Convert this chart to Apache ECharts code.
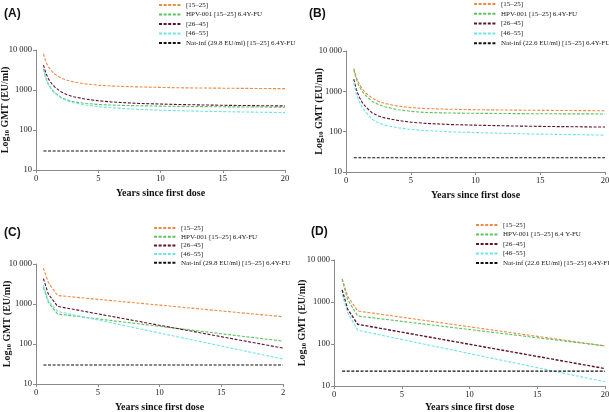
<!DOCTYPE html>
<html>
<head>
<meta charset="utf-8">
<script src="https://cdn.jsdelivr.net/npm/echarts@6/dist/echarts.min.js"></script>
<style>html,body{margin:0;padding:0;background:#fff}#c{width:609px;height:412px}</style>
</head>
<body>
<div id="c"></div>
<script>
// ---- data ----
const smoothYears = [0.6, 0.8, 1, 1.25, 1.5, 2, 2.5, 3, 4, 5, 6, 8, 10, 12, 15, 18, 20];
const pieceYears = [0.6, 1, 1.75, 20];
const natYears = [0.6, 20];

// Panel A (smooth)
const A_15_25 = [8000, 5000, 3800, 3000, 2500, 2000, 1750, 1600, 1420, 1320, 1260, 1200, 1160, 1130, 1110, 1090, 1080];
const A_hpv001 = [3400, 2000, 1400, 1050, 860, 660, 560, 510, 460, 435, 420, 405, 395, 388, 380, 375, 372];
const A_26_45 = [4200, 2600, 1900, 1450, 1200, 900, 760, 680, 590, 540, 505, 465, 445, 430, 415, 405, 400];
const A_46_55 = [3200, 1900, 1350, 1020, 840, 640, 540, 480, 420, 385, 360, 330, 312, 300, 288, 278, 272];
// Panel B (smooth)
const B_15_25 = [3700, 2200, 1550, 1150, 920, 690, 570, 500, 430, 395, 375, 360, 350, 345, 338, 333, 330];
const B_hpv001 = [3400, 2000, 1350, 1000, 800, 570, 470, 415, 350, 320, 300, 290, 285, 282, 278, 276, 275];
const B_26_45 = [2000, 1100, 750, 530, 420, 295, 245, 220, 190, 172, 162, 150, 145, 140, 135, 132, 130];
const B_46_55 = [1600, 850, 580, 400, 310, 205, 165, 145, 125, 114, 107, 99, 95, 91, 87, 84, 82];
// Panel C (piecewise)
const C_15_25 = [7900, 3450, 1630, 480];
const C_hpv001 = [2600, 1100, 560, 118];
const C_26_45 = [4300, 1770, 870, 79];
const C_46_55 = [2960, 1200, 650, 42];
// Panel D (piecewise)
const D_15_25 = [3590, 1380, 611, 90];
const D_hpv001 = [3500, 1150, 464, 90];
const D_26_45 = [1940, 680, 295, 26];
const D_46_55 = [1520, 565, 212, 12.6];
// Natural infection thresholds
const natAC = [29.8, 29.8];
const natBD = [22.6, 22.6];

const yTicks = [10, 100, 1000, 10000];
const yTickLabels = ['10', '100', '1000', '10 000'];

const nm15 = '[15–25]';
const nmHpv = 'HPV-001 [15–25] 6.4Y-FU';
const nmHpvD = 'HPV-001 [15–25] 6.4 Y-FU';
const nm26 = '[26–45]';
const nm46 = '[46–55]';
const nmNatAC = 'Nat-inf (29.8 EU/ml) [15–25] 6.4Y-FU';
const nmNatBD = 'Nat-inf (22.6 EU/ml) [15–25] 6.4Y-FU';

// ---- styling ----
const COL = {o: '#ee8a45', g: '#5cc160', r: '#5e1330', c: '#6fe3ea', k: '#111111'};
const SERIF = '"Liberation Serif", "DejaVu Serif", serif';

const grids = [
  {left: 36, top: 50, width: 249, height: 120, outerBoundsMode: 'none', containLabel: false},
  {left: 346, top: 51, width: 259, height: 121, outerBoundsMode: 'none', containLabel: false},
  {left: 36, top: 264, width: 247, height: 120, outerBoundsMode: 'none', containLabel: false},
  {left: 334, top: 260, width: 271, height: 126, outerBoundsMode: 'none', containLabel: false}
];
const yTitleGap = [25, 21, 23, 26];
const xTitleGap = [18, 18, 18, 16];

function pairs(xs, ys) { return xs.map((x, i) => [x, ys[i]]); }

function mk(name, xs, ys, color, gi, w) {
  return {
    name, type: 'line', xAxisIndex: gi, yAxisIndex: gi,
    data: pairs(xs, ys), symbol: 'none', showSymbol: false, smooth: false, silent: true,
    lineStyle: {color, width: w || 1.1, type: [3, 1.6]},
    itemStyle: {color}
  };
}

const series = [
  mk(nm15, smoothYears, A_15_25, COL.o, 0),
  mk(nmHpv, smoothYears, A_hpv001, COL.g, 0),
  mk(nm26, smoothYears, A_26_45, COL.r, 0),
  mk(nm46, smoothYears, A_46_55, COL.c, 0),
  mk(nmNatAC, natYears, natAC, COL.k, 0),
  mk(nm15, smoothYears, B_15_25, COL.o, 1),
  mk(nmHpv, smoothYears, B_hpv001, COL.g, 1),
  mk(nm26, smoothYears, B_26_45, COL.r, 1),
  mk(nm46, smoothYears, B_46_55, COL.c, 1),
  mk(nmNatBD, natYears, natBD, COL.k, 1),
  mk(nm15, pieceYears, C_15_25, COL.o, 2),
  mk(nmHpv, pieceYears, C_hpv001, COL.g, 2),
  mk(nm26, pieceYears, C_26_45, COL.r, 2),
  mk(nm46, pieceYears, C_46_55, COL.c, 2),
  mk(nmNatAC, natYears, natAC, COL.k, 2),
  mk(nm15, pieceYears, D_15_25, COL.o, 3),
  mk(nmHpvD, pieceYears, D_hpv001, COL.g, 3),
  mk(nm26, pieceYears, D_26_45, COL.r, 3, 1.4),
  mk(nm46, pieceYears, D_46_55, COL.c, 3),
  mk(nmNatBD, natYears, natBD, COL.k, 3)
];

const axisGray = '#8a8a8a';
const xAxes = grids.map((g, i) => ({
  type: 'value', gridIndex: i, min: 0, max: 20, interval: 5,
  name: 'Years since first dose', nameLocation: 'middle', nameGap: xTitleGap[i], nameMoveOverlap: false,
  nameTextStyle: {fontFamily: SERIF, fontWeight: 'bold', fontSize: 10, color: '#111'},
  axisLine: {onZero: false, lineStyle: {color: axisGray, width: 1}},
  axisTick: {show: true, length: 3, lineStyle: {color: axisGray}},
  axisLabel: {fontFamily: SERIF, fontSize: 8.5, color: '#222', margin: 4,
    formatter: v => (i === 2 && v === 20) ? '2' : String(v)},
  splitLine: {show: false}
}));
const yAxes = grids.map((g, i) => ({
  type: 'log', logBase: 10, gridIndex: i, min: 10, max: 10000,
  name: '{b|Log}{s|10}{b| GMT (EU/ml)}', nameLocation: 'middle', nameGap: yTitleGap[i], nameRotate: 90,
  nameMoveOverlap: false,
  nameTextStyle: {rich: {
    b: {fontFamily: SERIF, fontWeight: 'bold', fontSize: 10, color: '#111'},
    s: {fontFamily: SERIF, fontWeight: 'bold', fontSize: 6.5, color: '#111', padding: [4, 0, 0, 0]}
  }},
  axisLine: {show: true, lineStyle: {color: axisGray, width: 1}},
  axisTick: {show: true, length: 3, lineStyle: {color: axisGray}},
  axisLabel: {fontFamily: SERIF, fontSize: 8.5, color: '#222', margin: 4,
    formatter: v => { const k = yTicks.indexOf(Math.round(v)); return k >= 0 ? yTickLabels[k] : ''; }},
  splitLine: {show: false}
}));

function leg(left, top, names, gap) {
  return {
    left, top, padding: 0, orient: 'vertical', itemWidth: 22, itemHeight: 6, itemGap: gap,
    data: names, selectedMode: false,
    itemStyle: {color: 'transparent', borderColor: 'transparent', borderWidth: 0, opacity: 0},
    textStyle: {fontFamily: SERIF, fontSize: 7, color: '#222', lineHeight: 8}
  };
}

const option = {
  animation: false,
  backgroundColor: '#fff',
  grid: grids,
  xAxis: xAxes,
  yAxis: yAxes,
  legend: [
    leg(158, 1, [nm15, nmHpv, nm26, nm46, nmNatAC], 1.5),
    leg(473, 0, [nm15, nmHpv, nm26, nm46, nmNatBD], 1.8),
    leg(153, 224, [nm15, nmHpv, nm26, nm46, nmNatAC], 0.7),
    leg(475, 221, [nm15, nmHpvD, nm26, nm46, nmNatBD], 1.5)
  ],
  graphic: [
    {type: 'text', left: 4, top: 8, style: {text: '(A)', font: 'bold 12px "Liberation Sans", Arial, sans-serif', fill: '#111'}},
    {type: 'text', left: 309, top: 8, style: {text: '(B)', font: 'bold 12px "Liberation Sans", Arial, sans-serif', fill: '#111'}},
    {type: 'text', left: 4, top: 227, style: {text: '(C)', font: 'bold 12px "Liberation Sans", Arial, sans-serif', fill: '#111'}},
    {type: 'text', left: 311, top: 226, style: {text: '(D)', font: 'bold 12px "Liberation Sans", Arial, sans-serif', fill: '#111'}}
  ],
  series
};

const chart = echarts.init(document.getElementById('c'), null, {renderer: 'canvas'});
chart.setOption(option);
</script>
</body>
</html>
